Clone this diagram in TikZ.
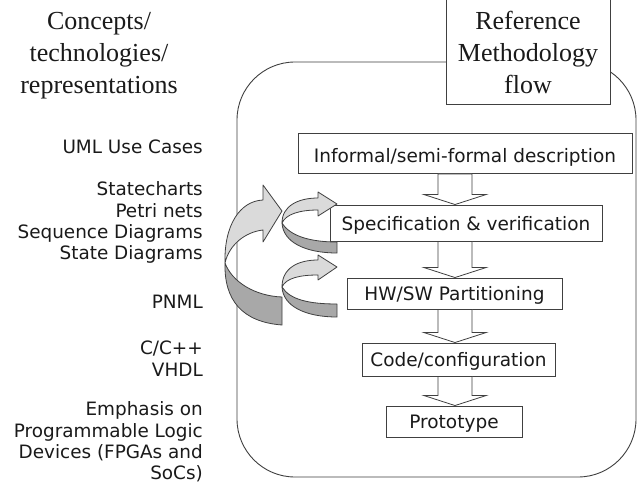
\documentclass[tikz,border=0pt]{standalone}
\usepackage{fontspec}
\setmainfont{Liberation Serif}
\newfontfamily\sansf{DejaVu Sans}
\usetikzlibrary{calc}
\definecolor{lg}{HTML}{DADADA}
\definecolor{dg}{HTML}{A8A8A8}
\definecolor{ln}{HTML}{404040}
\definecolor{tx}{HTML}{1A1A1A}
\begin{document}
\begin{tikzpicture}[x=1pt,y=-1pt,
  box/.style={draw=ln, line width=0.9pt, fill=white, inner sep=0pt, text=tx,
    text height=14pt, text depth=0pt, font=\sansf\fontsize{18.5}{22}\selectfont},
  lst/.style={anchor=base east, inner sep=0pt, text=tx, font=\sansf\fontsize{18.4}{21}\selectfont},
  hd/.style={anchor=base, inner sep=0pt, text=tx, font=\fontsize{26}{32}\selectfont},
  blk/.style={draw=ln, line width=0.8pt, fill=white, line join=miter},
  lite/.style={draw=ln, line width=0.8pt, fill=lg, line join=round},
  dark/.style={draw=ln, line width=0.8pt, fill=dg, line join=round}]
\useasboundingbox (0,0) rectangle (637,484);
\fill[white] (0,0) rectangle (637,484);

% frame
\draw[ln, line width=0.9pt, rounded corners=58pt] (237,62) rectangle (636,477);

% reference box
\node[draw=ln, line width=0.9pt, fill=white, minimum width=164pt, minimum height=105pt, inner sep=0pt] (ref) at (528,51.5) {};
\node[hd] (r1) at (528,30) {Reference};
\node[hd] (r2) at (528,62) {Methodology};
\node[hd] (r3) at (528,94) {flow};

% left heading
\node[hd] (h1) at (99,30) {Concepts/};
\node[hd] (h2) at (99,62) {technologies/};
\node[hd] (h3) at (99,94) {representations};

% left list
\node[lst] (l1) at (203,153.5) {UML Use Cases};
\node[lst] (l2) at (203,195.5) {Statecharts};
\node[lst] (l3) at (203,217.5) {Petri nets};
\node[lst] (l4) at (203,238) {Sequence Diagrams};
\node[lst] (l5) at (203,259.5) {State Diagrams};
\node[lst] (l6) at (203,308.5) {PNML};
\node[lst] (l7) at (203,354) {C/C++};
\node[lst] (l8) at (203,376.5) {VHDL};
\node[lst] (l9) at (203,415.5) {Emphasis on};
\node[lst] (l10) at (203,437) {Programmable Logic};
\node[lst] (l11) at (203,458.5) {Devices (FPGAs and};
\node[lst] (l12) at (203,479) {SoCs)};

% flow boxes
\node[box, text height=17pt, minimum width=334pt, minimum height=40pt] (inf) at (465,153.5) {Informal/semi-formal description};
\node[box, minimum width=272pt, minimum height=36pt] (spec) at (466,223) {Specification \& verification};
\node[box, minimum width=215pt, minimum height=31pt] (hw) at (454.5,293.5) {HW/SW Partitioning};
\node[box, minimum width=193pt, minimum height=33pt] (code) at (458.5,359.5) {Code/configuration};
\node[box, minimum width=136pt, minimum height=31pt] (proto) at (454,421.5) {Prototype};

% block arrows
\newcommand{\blkarrow}[2]{%
  \path let \p1=(#1.south), \p2=(#2.north) in
    [blk] (438pt,\y1) -- (438pt,\y2+10pt) -- (424pt,\y2+10pt) -- (455pt,\y2)
      -- (486pt,\y2+10pt) -- (472pt,\y2+10pt) -- (472pt,\y1) -- cycle;}
\blkarrow{inf}{spec}
\blkarrow{spec}{hw}
\blkarrow{hw}{code}
\blkarrow{code}{proto}

% big curved arrow
\draw[dark] (225,263) .. controls (232,282) and (255,296) .. (282,297) -- (282,325)
  .. controls (242,322) and (224,300) .. (225,263) -- cycle;
\draw[lite] (225,263) .. controls (224,225) and (240,201) .. (263,200) -- (263,185)
  -- (282,211) -- (263,242) -- (263,230) .. controls (245,232) and (229,245) .. (225,263) -- cycle;

% small upper curved arrow
\draw[dark] (282,223) .. controls (290,236) and (310,242) .. (337,242) -- (337,253)
  .. controls (305,253) and (283,242) .. (282,223) -- cycle;
\draw[lite] (282,223) .. controls (282,206) and (298,198) .. (318,198) -- (318,192)
  -- (337,204) -- (318,216) -- (318,210) .. controls (300,210) and (286,214) .. (282,223) -- cycle;

% small lower curved arrow
\draw[dark] (282,287) .. controls (290,300) and (310,304) .. (337,304) -- (337,317)
  .. controls (305,317) and (283,306) .. (282,287) -- cycle;
\draw[lite] (282,287) .. controls (282,268) and (298,260) .. (318,260) -- (318,255)
  -- (337,267) -- (318,280) -- (318,275) .. controls (300,275) and (286,278) .. (282,287) -- cycle;
\end{tikzpicture}
\end{document}
